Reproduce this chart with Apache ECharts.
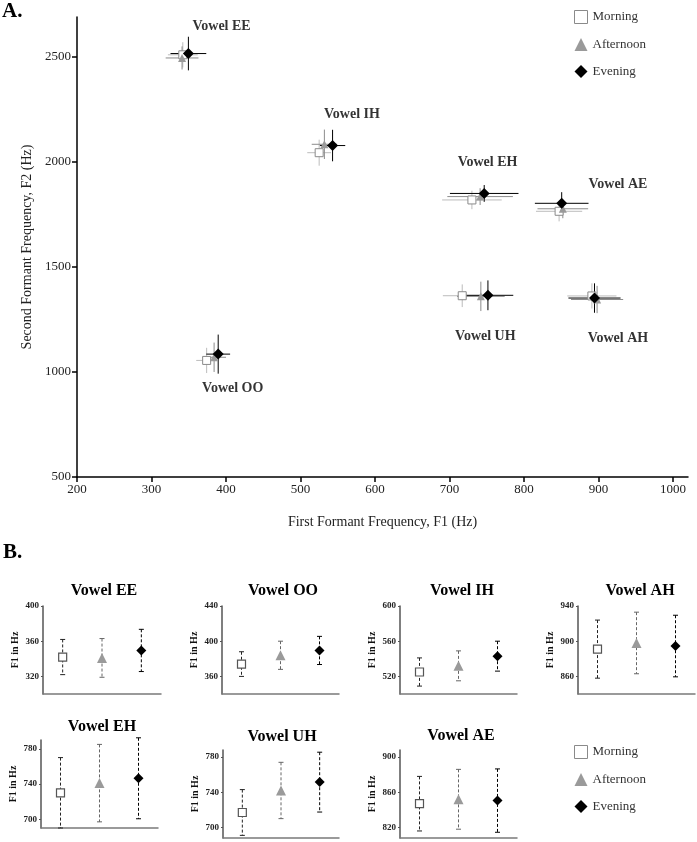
<!DOCTYPE html>
<html><head><meta charset="utf-8">
<script src="https://cdn.jsdelivr.net/npm/echarts@6/dist/echarts.min.js"></script>
<style>html,body{margin:0;padding:0;background:#fff}#c{width:697px;height:842px}</style>
</head><body><div id="c"></div>
<script>
// ---------- DATA ----------
const vowels = ['EE', 'IH', 'EH', 'AE', 'AH', 'UH', 'OO'];
const sessions = ['Morning', 'Afternoon', 'Evening'];
// First formant means (Hz)
const f1Morning   = [342, 525, 730, 847, 891, 717, 374];
const f1Afternoon = [341, 532, 741, 852, 898, 742, 384];
const f1Evening   = [349.5, 543, 746.5, 850.5, 894.5, 751.5, 389.5];
// First formant spread (Hz)
const f1SdMorning   = [20, 16, 40, 31, 33, 26, 14];
const f1SdAfternoon = [22, 17, 44, 34, 35, 32, 16];
const f1SdEvening   = [24, 17, 46, 36, 35, 34, 16];
// Second formant means (Hz)
const f2Morning   = [2510, 2044, 1819, 1765, 1362, 1363, 1055];
const f2Afternoon = [2495, 2084, 1835, 1777, 1345, 1360, 1070];
const f2Evening   = [2516, 2078, 1850, 1803, 1352, 1365, 1085];
// Second formant spread (Hz)
const f2SdMorning   = [60, 62, 44, 48, 60, 54, 60];
const f2SdAfternoon = [55, 70, 40, 45, 65, 70, 70];
const f2SdEvening   = [80, 75, 40, 53, 70, 71, 93];
// Vowel label anchors (F1, F2)
const labelF1 = [394, 569, 751, 926, 926, 748, 409];
const labelF2 = [2643, 2224, 1997, 1895, 1162, 1168, 924];
// Tick labels
const f1Ticks = [200, 300, 400, 500, 600, 700, 800, 900, 1000];
const f2Ticks = [500, 1000, 1500, 2000, 2500];
// Panels (part B)
const panelVowels = ['EE', 'OO', 'IH', 'AH', 'EH', 'UH', 'AE'];
const panelMin = [300, 340, 500, 840, 690, 688, 808];
const panelMax = [400, 440, 600, 940, 790, 788, 908];
const panelTicks = [[320, 360, 400], [360, 400, 440], [520, 560, 600], [860, 900, 940],
                    [700, 740, 780], [700, 740, 780], [820, 860, 900]];

// ---------- LAYOUT / STYLE ----------
const serif = "'Liberation Serif','DejaVu Serif','Times New Roman',serif";
const plain = v => String(v);
const f1 = {Morning: f1Morning, Afternoon: f1Afternoon, Evening: f1Evening};
const f1Sd = {Morning: f1SdMorning, Afternoon: f1SdAfternoon, Evening: f1SdEvening};
const f2 = {Morning: f2Morning, Afternoon: f2Afternoon, Evening: f2Evening};
const f2Sd = {Morning: f2SdMorning, Afternoon: f2SdAfternoon, Evening: f2SdEvening};
const sty = {
  Morning:   {symbol: 'rect', fill: '#fff', border: '#8a8a8a', cross: '#bcbcbc', dash: '#222', top: 8, panel: 8},
  Afternoon: {symbol: 'triangle', fill: '#9a9a9a', border: '#9a9a9a', cross: '#8c8c8c', dash: '#666', top: 8, panel: 10},
  Evening:   {symbol: 'diamond', fill: '#000', border: '#000', cross: '#000', dash: '#000', top: 11, panel: 10}
};
const boxes = [
  {left: 43, top: 606, width: 118, height: 88, tx: 104, ty: 592},
  {left: 222, top: 606, width: 117, height: 88, tx: 283, ty: 592},
  {left: 400, top: 606, width: 117, height: 88, tx: 462, ty: 592},
  {left: 578, top: 606, width: 117, height: 88, tx: 640, ty: 592},
  {left: 41, top: 740, width: 117, height: 88, tx: 102, ty: 728},
  {left: 223, top: 750, width: 116, height: 88, tx: 282, ty: 738},
  {left: 400, top: 750, width: 117, height: 88, tx: 461, ty: 737}
];

const grids = [{left: 77, top: 17, width: 611, height: 460}];
const xAxes = [{
  type: 'value', gridIndex: 0, min: 200, max: 1020,
  axisLine: {lineStyle: {color: '#000', width: 1.5}},
  axisTick: {customValues: f1Ticks, length: 5, lineStyle: {color: '#000', width: 1.5}},
  axisLabel: {customValues: f1Ticks, formatter: plain, color: '#222', fontFamily: serif, fontSize: 13, margin: 6},
  splitLine: {show: false},
  name: 'First Formant Frequency, F1 (Hz)', nameLocation: 'middle', nameGap: 38,
  nameTextStyle: {fontFamily: serif, fontSize: 14, color: '#222'}
}];
const yAxes = [{
  type: 'value', gridIndex: 0, min: 500, max: 2690,
  axisLine: {show: true, lineStyle: {color: '#000', width: 1.5}},
  axisTick: {show: true, customValues: f2Ticks, length: 5, lineStyle: {color: '#000', width: 1.5}},
  axisLabel: {customValues: f2Ticks, formatter: plain, color: '#222', fontFamily: serif, fontSize: 13, margin: 6},
  splitLine: {show: false},
  name: 'Second Formant Frequency, F2 (Hz)', nameLocation: 'middle', nameGap: 42,
  nameTextStyle: {fontFamily: serif, fontSize: 14, color: '#222'}
}];
const titles = [
  {text: 'A.', left: 2, top: 1, padding: 0, textStyle: {fontFamily: serif, fontSize: 21, fontWeight: 'bold', color: '#000'}},
  {text: 'B.', left: 3, top: 542, padding: 0, textStyle: {fontFamily: serif, fontSize: 21, fontWeight: 'bold', color: '#000'}}
];
const series = [];

// Top chart: error crosses
sessions.forEach(s => {
  series.push({
    type: 'custom', name: s + ' range', xAxisIndex: 0, yAxisIndex: 0, silent: true, z: 2,
    data: vowels.map((v, i) => [f1[s][i], f2[s][i], f1Sd[s][i], f2Sd[s][i]]),
    encode: {x: 0, y: 1},
    renderItem: (params, api) => {
      const x = api.value(0), y = api.value(1), sx = api.value(2), sy = api.value(3);
      const a = api.coord([x - sx, y]), b = api.coord([x + sx, y]);
      const c = api.coord([x, y - sy]), d = api.coord([x, y + sy]);
      const st = {stroke: sty[s].cross, lineWidth: 1};
      return {type: 'group', children: [
        {type: 'line', shape: {x1: a[0], y1: a[1], x2: b[0], y2: b[1]}, style: st},
        {type: 'line', shape: {x1: c[0], y1: c[1], x2: d[0], y2: d[1]}, style: st}
      ]};
    }
  });
});
// Top chart: means
sessions.forEach(s => {
  series.push({
    type: 'scatter', name: s, xAxisIndex: 0, yAxisIndex: 0, z: 3,
    symbol: sty[s].symbol, symbolSize: sty[s].top,
    itemStyle: {color: sty[s].fill, borderColor: sty[s].border, borderWidth: s === 'Morning' ? 1 : 0, opacity: 1},
    data: vowels.map((v, i) => [f1[s][i], f2[s][i]])
  });
});
// Top chart: vowel labels
series.push({
  type: 'scatter', name: 'labels', xAxisIndex: 0, yAxisIndex: 0, silent: true, symbolSize: 0,
  data: vowels.map((v, i) => [labelF1[i], labelF2[i], 'Vowel ' + v]),
  label: {show: true, position: 'inside', formatter: p => p.value[2],
          fontFamily: serif, fontSize: 14, fontWeight: 'bold', color: '#000'}
});

// Part B panels
panelVowels.forEach((pv, k) => {
  const gi = k + 1, b = boxes[k], vi = vowels.indexOf(pv);
  grids.push({left: b.left, top: b.top, width: b.width, height: b.height});
  xAxes.push({
    type: 'category', gridIndex: gi, data: sessions, boundaryGap: true,
    axisLine: {lineStyle: {color: '#7a7a7a', width: 1.5}},
    axisTick: {show: false}, axisLabel: {show: false}, splitLine: {show: false}
  });
  yAxes.push({
    type: 'value', gridIndex: gi, min: panelMin[k], max: panelMax[k],
    axisLine: {show: true, lineStyle: {color: '#555', width: 1.5}},
    axisTick: {show: true, customValues: panelTicks[k], length: 2, lineStyle: {color: '#555'}},
    axisLabel: {customValues: panelTicks[k], formatter: plain, fontFamily: serif, fontSize: 9, fontWeight: 'bold', color: '#222', margin: 4},
    splitLine: {show: false},
    name: 'F1 in Hz', nameLocation: 'middle', nameGap: 23,
    nameTextStyle: {fontFamily: serif, fontSize: 10, fontWeight: 'bold', color: '#111'}
  });
  titles.push({
    text: 'Vowel ' + pv, left: b.tx, top: b.ty - 9, textAlign: 'center', padding: 0,
    textStyle: {fontFamily: serif, fontSize: 16, fontWeight: 'bold', color: '#000'}
  });
  series.push({
    type: 'custom', name: 'range ' + pv, xAxisIndex: gi, yAxisIndex: gi, silent: true, z: 2,
    data: sessions.map((s, j) => [j, f1[s][vi], f1Sd[s][vi]]),
    encode: {x: 0, y: 1},
    renderItem: (params, api) => {
      const j = api.value(0), m = api.value(1), sd = api.value(2);
      const t = api.coord([j, m + sd]), bt = api.coord([j, m - sd]);
      const col = sty[sessions[j]].dash;
      return {type: 'group', children: [
        {type: 'line', shape: {x1: t[0], y1: t[1], x2: bt[0], y2: bt[1]}, style: {stroke: col, lineWidth: 1, lineDash: [3, 2]}},
        {type: 'line', shape: {x1: t[0] - 2.5, y1: t[1], x2: t[0] + 2.5, y2: t[1]}, style: {stroke: col, lineWidth: 1}},
        {type: 'line', shape: {x1: bt[0] - 2.5, y1: bt[1], x2: bt[0] + 2.5, y2: bt[1]}, style: {stroke: col, lineWidth: 1}}
      ]};
    }
  });
  sessions.forEach((s, j) => {
    series.push({
      type: 'scatter', name: s, xAxisIndex: gi, yAxisIndex: gi, z: 3, clip: false,
      symbol: sty[s].symbol, symbolSize: sty[s].panel,
      itemStyle: {color: sty[s].fill, borderColor: s === 'Morning' ? '#555' : sty[s].border, borderWidth: s === 'Morning' ? 1.2 : 0, opacity: 1},
      data: [[j, f1[s][vi]]]
    });
  });
});

const legendData = [
  {name: 'Morning', icon: 'rect', itemStyle: {color: '#fff', borderColor: '#8a8a8a', borderWidth: 1}},
  {name: 'Afternoon', icon: 'triangle', itemStyle: {color: '#9a9a9a', borderWidth: 0}},
  {name: 'Evening', icon: 'diamond', itemStyle: {color: '#000', borderWidth: 0}}
];
const legendBase = {
  orient: 'vertical', left: 574, itemWidth: 13, itemHeight: 13, itemGap: 14, padding: 0,
  selectedMode: false, textStyle: {fontFamily: serif, fontSize: 13, color: '#333'}, data: legendData
};

const chart = echarts.init(document.getElementById('c'));
chart.setOption({
  animation: false,
  backgroundColor: '#fff',
  title: titles,
  legend: [Object.assign({}, legendBase, {top: 10}), Object.assign({}, legendBase, {top: 745})],
  grid: grids,
  xAxis: xAxes,
  yAxis: yAxes,
  series: series
});
</script>
</body></html>
